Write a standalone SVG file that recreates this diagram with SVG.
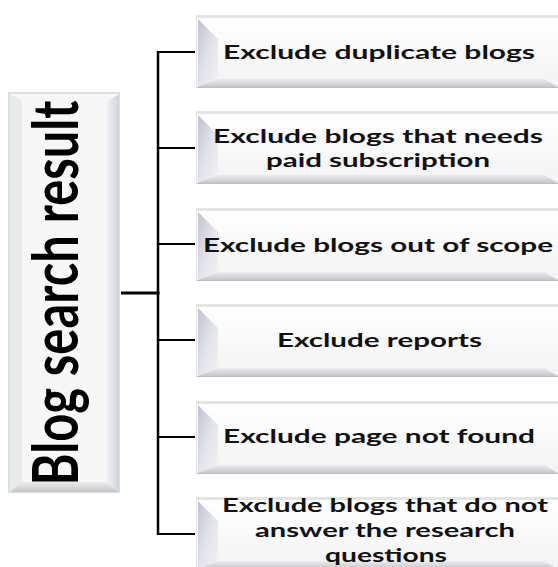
<svg xmlns="http://www.w3.org/2000/svg" xmlns:xlink="http://www.w3.org/1999/xlink" width="558" height="567" viewBox="0 0 558 567">
<style>
.t{font-family:Lato,"Liberation Sans",sans-serif;font-weight:700;font-size:19.5px;fill:#111;text-anchor:middle}
.big{font-family:Lato,"Liberation Sans",sans-serif;font-weight:700;font-size:50px;fill:#000;text-anchor:middle}
.c{stroke:#000;fill:none}
</style>
<defs>
<linearGradient id="face" x1="0" y1="0" x2="0" y2="1">
<stop offset="0" stop-color="#ffffff"/><stop offset="1" stop-color="#f3f3f5"/>
</linearGradient>
<linearGradient id="lb" x1="0" y1="0" x2="1" y2="1">
<stop offset="0" stop-color="#c2c2cc"/><stop offset="0.5" stop-color="#e2e2ea"/><stop offset="1" stop-color="#f2f2f6"/>
</linearGradient>
<linearGradient id="bb" x1="0" y1="0" x2="0" y2="1">
<stop offset="0" stop-color="#ececee"/><stop offset="1" stop-color="#c6c6ca"/>
</linearGradient>
<linearGradient id="rb" x1="0" y1="0" x2="1" y2="0">
<stop offset="0" stop-color="#f4f4f8"/><stop offset="1" stop-color="#d2d2dc"/>
</linearGradient>
<g id="box">
<rect x="196" y="0" width="362" height="73" fill="#e4e4e4"/>
<rect x="197" y="3" width="361" height="70" fill="url(#face)"/>
<polygon points="198,4 218,24 218,64 198,72" fill="url(#lb)"/>
<polygon points="198,72 218,64 544,64 558,72" fill="url(#bb)"/>
<line x1="197" y1="72.5" x2="558" y2="72.5" stroke="#bdbdc2" stroke-width="1"/>
</g>
</defs>
<rect width="558" height="567" fill="#ffffff"/>

<g id="root">
<rect x="8" y="92" width="112" height="401" fill="#dcdfdf"/>
<rect x="10" y="94" width="109" height="398" fill="#f7f7f8"/>
<polygon points="10,94 22,100 22,484 10,492" fill="#e9ebeb"/>
<polygon points="119,94 106,102 106,482 119,492" fill="url(#rb)"/>
<polygon points="10,492 22,482 106,482 119,492" fill="url(#bb)"/>
<text class="big" transform="translate(78,293) rotate(-90) scale(1,1.25)" textLength="385" lengthAdjust="spacingAndGlyphs">Blog search result</text>
</g>

<g id="connectors" class="c">
<line x1="121" y1="293" x2="159.5" y2="293" stroke-width="3"/>
<line x1="158" y1="51" x2="158" y2="535" stroke-width="2.5"/>
<line x1="158" y1="52" x2="195" y2="52" stroke-width="2"/>
<line x1="158" y1="148" x2="195" y2="148" stroke-width="2"/>
<line x1="158" y1="244" x2="195" y2="244" stroke-width="2"/>
<line x1="158" y1="340" x2="195" y2="340" stroke-width="2"/>
<line x1="158" y1="437" x2="195" y2="437" stroke-width="2"/>
<line x1="158" y1="534" x2="195" y2="534" stroke-width="2"/>
</g>

<g id="n1">
<use xlink:href="#box" y="15"/>
<text class="t" x="379" y="59" textLength="312" lengthAdjust="spacingAndGlyphs">Exclude duplicate blogs</text>
</g>
<g id="n2">
<use xlink:href="#box" y="111"/>
<text class="t" x="378" y="143" textLength="330" lengthAdjust="spacingAndGlyphs">Exclude blogs that needs</text>
<text class="t" x="378" y="167" textLength="224" lengthAdjust="spacingAndGlyphs">paid subscription</text>
</g>
<g id="n3">
<use xlink:href="#box" y="208"/>
<text class="t" x="378" y="252" textLength="350" lengthAdjust="spacingAndGlyphs">Exclude blogs out of scope</text>
</g>
<g id="n4">
<use xlink:href="#box" y="304"/>
<text class="t" x="379.5" y="347" textLength="205" lengthAdjust="spacingAndGlyphs">Exclude reports</text>
</g>
<g id="n5">
<use xlink:href="#box" y="401"/>
<text class="t" x="379" y="443" textLength="312" lengthAdjust="spacingAndGlyphs">Exclude page not found</text>
</g>
<g id="n6">
<use xlink:href="#box" y="497"/>
<text class="t" x="385" y="512" textLength="326" lengthAdjust="spacingAndGlyphs">Exclude blogs that do not</text>
<text class="t" x="385" y="537" textLength="260" lengthAdjust="spacingAndGlyphs">answer the research</text>
<text class="t" x="386" y="562" textLength="122" lengthAdjust="spacingAndGlyphs">questions</text>
</g>
</svg>
